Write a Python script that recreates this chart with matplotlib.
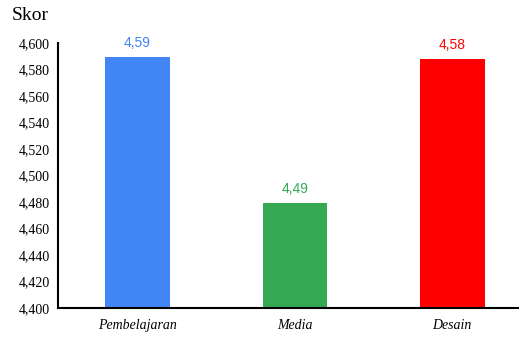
import matplotlib.pyplot as plt
from matplotlib.ticker import FuncFormatter

categories = ["Pembelajaran", "Media", "Desain"]
values = [4.589, 4.479, 4.588]
value_labels = ["4,59", "4,49", "4,58"]
colors = ["#4285F4", "#34A853", "#FF0000"]
yticks = [4.40 + 0.02 * i for i in range(11)]


def main():
    fig = plt.figure(figsize=(5.22, 3.39), dpi=100)
    ax = fig.add_axes([0.111, 0.0914, 0.881, 0.782])

    x = range(len(categories))
    ax.bar(x, [v - 4.4 for v in values], bottom=4.4, width=0.41, color=colors)

    for xi, v, lab, c in zip(x, values, value_labels, colors):
        ax.text(xi, v + 0.0055, lab, ha="center", va="bottom", color=c,
                fontsize=10, family="Liberation Sans")

    ax.set_ylim(4.4, 4.6)
    ax.set_xlim(-0.505, 2.416)
    ax.set_yticks(yticks)
    ax.yaxis.set_major_formatter(FuncFormatter(lambda v, p: f"{v:.3f}".replace(".", ",")))
    ax.set_xticks(list(x))
    ax.set_xticklabels(categories, fontstyle="italic", family="Liberation Serif", fontsize=10)
    for lab in ax.get_yticklabels():
        lab.set_family("Liberation Serif")
        lab.set_fontsize(10)
    ax.tick_params(axis="both", length=0, pad=8)
    ax.tick_params(axis="y", pad=6)

    for s in ["top", "right"]:
        ax.spines[s].set_visible(False)
    ax.spines["left"].set_linewidth(1.5)
    ax.spines["bottom"].set_linewidth(1.5)

    fig.text(12 / 522, 1 - 15 / 339, "Skor", family="Liberation Serif",
             fontsize=14, va="center", ha="left")

    fig.savefig("out.png", dpi=100)


if __name__ == "__main__":
    main()
